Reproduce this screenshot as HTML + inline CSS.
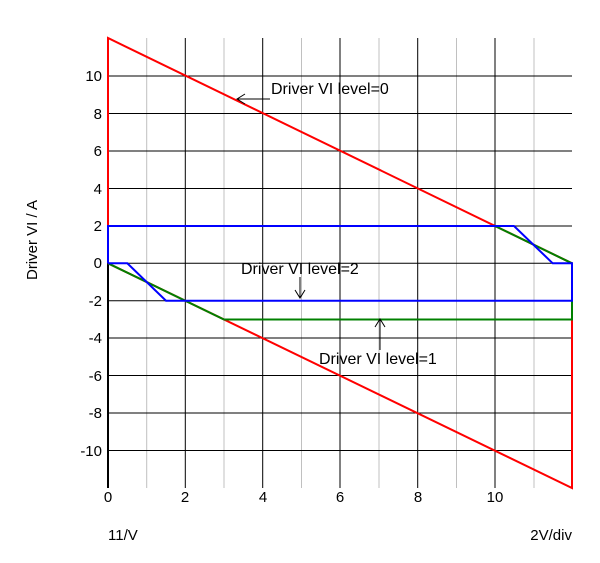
<!DOCTYPE html><html><head><style>body{margin:0;background:#fff}svg{display:block;font-family:"Liberation Sans",sans-serif}</style></head><body>
<svg width="600" height="563" xmlns="http://www.w3.org/2000/svg">
<g stroke="#c0c0c0" stroke-width="1">
<line x1="146.7" y1="38" x2="146.7" y2="488"/><line x1="224" y1="38" x2="224" y2="488"/><line x1="301.5" y1="38" x2="301.5" y2="488"/><line x1="379" y1="38" x2="379" y2="488"/><line x1="456.5" y1="38" x2="456.5" y2="488"/><line x1="534" y1="38" x2="534" y2="488"/>
</g>
<g stroke="#000" stroke-width="1">
<line x1="185.3" y1="38" x2="185.3" y2="488"/><line x1="262.7" y1="38" x2="262.7" y2="488"/><line x1="340" y1="38" x2="340" y2="488"/><line x1="417.7" y1="38" x2="417.7" y2="488"/><line x1="495" y1="38" x2="495" y2="488"/>
<line x1="108" y1="76" x2="572" y2="76"/><line x1="108" y1="113.5" x2="572" y2="113.5"/><line x1="108" y1="151" x2="572" y2="151"/><line x1="108" y1="188.5" x2="572" y2="188.5"/><line x1="108" y1="226" x2="572" y2="226"/><line x1="108" y1="263.3" x2="572" y2="263.3"/><line x1="108" y1="300.7" x2="572" y2="300.7"/><line x1="108" y1="338" x2="572" y2="338"/><line x1="108" y1="375.5" x2="572" y2="375.5"/><line x1="108" y1="413" x2="572" y2="413"/><line x1="108" y1="450.5" x2="572" y2="450.5"/>
<line x1="108" y1="38" x2="108" y2="488" stroke-width="2"/>
</g>
<g fill="none" stroke-width="2">
<polyline stroke="#f00" points="108,263.3 108,38 572,263.3 572,488 108,263.3"/>
<polyline stroke="#008000" points="108,263.3 224,319.5 572,319.5 572,263.3 495,226"/>
<polyline stroke="#00f" points="108,263.3 127.3,263.3 166,300.7 572,300.7 572,263.3 552.7,263.3 514,226 108,226 108,263.3"/>
</g>
<g font-size="15" fill="#000" text-anchor="end">
<text x="102" y="81">10</text><text x="102" y="119">8</text><text x="102" y="156">6</text><text x="102" y="194">4</text><text x="102" y="231">2</text><text x="102" y="268">0</text><text x="102" y="306">-2</text><text x="102" y="343">-4</text><text x="102" y="381">-6</text><text x="102" y="418">-8</text><text x="102" y="456">-10</text>
</g>
<g font-size="15" text-anchor="middle">
<text x="108" y="502">0</text><text x="185" y="502">2</text><text x="263" y="502">4</text><text x="340" y="502">6</text><text x="418" y="502">8</text><text x="495" y="502">10</text>
</g>
<text x="108" y="540" font-size="15">11/V</text>
<text x="572" y="540" font-size="15" text-anchor="end">2V/div</text>
<text transform="translate(37,240) rotate(-90)" font-size="15" text-anchor="middle">Driver VI / A</text>
<g font-size="16">
<text x="271" y="94">Driver VI level=0</text>
<text x="241" y="274">Driver VI level=2</text>
<text x="319" y="364">Driver VI level=1</text>
</g>
<g stroke="#000" fill="none" stroke-width="1">
<line x1="270" y1="99" x2="237" y2="99"/><polyline points="245,94 237,99 245,104"/>
<line x1="300" y1="277" x2="300" y2="298"/><polyline points="295,290 300,298 305,290"/>
<line x1="380" y1="350" x2="380" y2="319"/><polyline points="375,327 380,319 385,327"/>
</g>
</svg></body></html>
